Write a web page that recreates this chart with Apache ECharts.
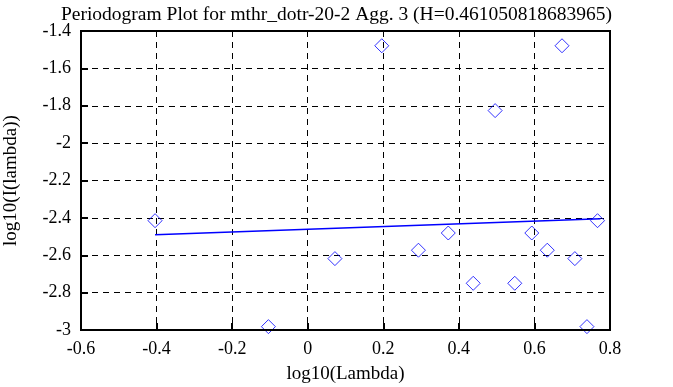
<!DOCTYPE html>
<html><head><meta charset="utf-8">
<script src="https://cdn.jsdelivr.net/npm/echarts@6/dist/echarts.min.js"></script>
<style>html,body{margin:0;padding:0;background:#fff}#c{width:673px;height:387px}</style>
</head><body><div id="c"></div>
<script>
const titleText = 'Periodogram Plot for mthr_dotr-20-2 Agg. 3 (H=0.461050818683965)';
const xName = 'log10(Lambda)';
const yName = 'log10(I(lambda))';
const logLambda = [-0.404, -0.104, 0.072, 0.196, 0.293, 0.372, 0.438, 0.496, 0.548, 0.593, 0.634, 0.673, 0.707, 0.739, 0.767];
const logI = [-2.415, -2.982, -2.618, -1.479, -2.573, -2.481, -2.750, -1.826, -2.750, -2.481, -2.573, -1.479, -2.618, -2.982, -2.415];
const fitX = [-0.404, 0.775];
const fitY = [-2.490, -2.405];

const pts = logLambda.map((x, i) => [x, logI[i]]);
const fit = fitX.map((x, i) => [x, fitY[i]]);
const font = '"Liberation Serif", "DejaVu Serif", serif';
const chart = echarts.init(document.getElementById('c'));
chart.setOption({
  animation: false,
  backgroundColor: '#fff',
  title: {text: titleText, left: 'center', top: 0,
    textStyle: {fontFamily: font, fontSize: 19.5, fontWeight: 'normal', color: '#000'}},
  grid: {left: 81, right: 63, top: 31, bottom: 57, containLabel: false, outerBoundsMode: 'none'},
  xAxis: {type: 'value', min: -0.6, max: 0.8, interval: 0.2,
    name: xName, nameLocation: 'middle', nameGap: 35,
    nameTextStyle: {fontFamily: font, fontSize: 19, color: '#000'},
    axisLine: {show: true, onZero: false, lineStyle: {color: '#000', width: 2}},
    axisTick: {show: true, inside: true, length: 7, lineStyle: {color: '#000', width: 2}},
    axisLabel: {fontFamily: font, fontSize: 18, color: '#000', margin: 10,
      formatter: v => String(Math.round(v * 10) / 10)},
    splitLine: {show: true, lineStyle: {color: '#000', type: [6, 5], width: 1}}},
  yAxis: {type: 'value', min: -3, max: -1.4, interval: 0.2,
    name: yName, nameLocation: 'middle', nameGap: 60, nameRotate: 90,
    nameTextStyle: {fontFamily: font, fontSize: 19, color: '#000'},
    axisLine: {show: true, onZero: false, lineStyle: {color: '#000', width: 2}},
    axisTick: {show: true, inside: true, length: 7, lineStyle: {color: '#000', width: 2}},
    axisLabel: {fontFamily: font, fontSize: 18, color: '#000', margin: 10, padding: [6, 0, 0, 0],
      formatter: v => String(Math.round(v * 10) / 10)},
    splitLine: {show: true, lineStyle: {color: '#000', type: [6, 5], width: 1}}},
  series: [
    {type: 'scatter', data: pts, symbol: 'diamond', symbolSize: 14,
      itemStyle: {color: 'transparent', borderColor: '#0000ff', borderWidth: 1}},
    {type: 'line', data: fit, symbol: 'none', lineStyle: {color: '#0000ff', width: 1.5}}
  ],
  graphic: [
    {type: 'rect', shape: {x: 81, y: 31, width: 529, height: 299}, silent: true, z: 100,
      style: {fill: 'none', stroke: '#000', lineWidth: 2}}
  ]
});
</script></body></html>
